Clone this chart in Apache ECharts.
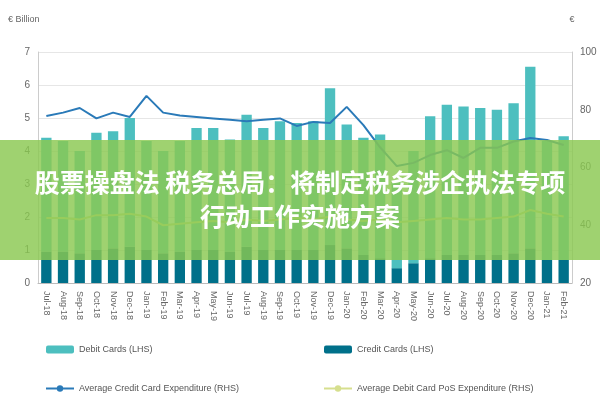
<!DOCTYPE html>
<html><head><meta charset="utf-8">
<script src="https://cdn.jsdelivr.net/npm/echarts@6/dist/echarts.min.js"></script>
<style>body{margin:0}#c{width:600px;height:400px}</style></head>
<body><div id="c"></div>
<script>
var months = ['Jul-18','Aug-18','Sep-18','Oct-18','Nov-18','Dec-18','Jan-19','Feb-19','Mar-19','Apr-19','May-19','Jun-19','Jul-19','Aug-19','Sep-19','Oct-19','Nov-19','Dec-19','Jan-20','Feb-20','Mar-20','Apr-20','May-20','Jun-20','Jul-20','Aug-20','Sep-20','Oct-20','Nov-20','Dec-20','Jan-21','Feb-21'];
var creditCards = [0.95,0.95,0.9,1.0,1.05,1.1,1.0,0.9,0.95,1.0,1.0,0.95,1.1,1.0,1.0,1.0,1.0,1.15,1.05,0.85,0.75,0.45,0.6,0.75,0.85,0.85,0.85,0.85,0.9,1.05,0.7,0.7];
var debitCards = [3.45,3.35,3.1,3.55,3.55,3.9,3.3,3.1,3.35,3.7,3.7,3.4,4.0,3.7,3.9,3.85,3.9,4.75,3.75,3.55,3.75,2.6,3.4,4.3,4.55,4.5,4.45,4.4,4.55,5.5,3.6,3.75];
var avgCreditExp = [77.8,79,80.6,77,79,77.5,84.8,79,78,77.5,77,76.5,76,76.5,77,74.4,75.8,75.4,81,74.7,67,60.5,61.6,64.3,66,63.3,66.8,66.8,69,70.2,69.5,67.8];
var avgDebitPos = [42.5,42.5,42,43.5,43.5,44,43,40,40.5,41,41.5,41,42,41.5,42,42.5,42,43,42,41.5,42,41,41.5,42,42.5,42,42,42.5,43,45.3,44,43];

var chart = echarts.init(document.getElementById('c'));
chart.setOption({
  animation:false,
  textStyle:{fontFamily:'Liberation Sans'},
  grid:{left:38,right:28,top:52,bottom:117},
  legend:[
    {left:40,top:340,orient:'vertical',itemGap:30,itemWidth:28,itemHeight:8,textStyle:{fontSize:9,color:'#555'},data:['Debit Cards (LHS)','Average Credit Card Expenditure (RHS)']},
    {left:318,top:340,orient:'vertical',itemGap:30,itemWidth:28,itemHeight:8,textStyle:{fontSize:9,color:'#555'},data:['Credit Cards (LHS)','Average Debit Card PoS Expenditure (RHS)']}
  ],
  xAxis:{type:'category',data:months,axisTick:{show:false},axisLine:{lineStyle:{color:'#bbb'}},axisLabel:{rotate:-90,fontSize:9,color:'#666',interval:0}},
  yAxis:[
    {type:'value',min:0,max:7,interval:1,name:'€ Billion',nameLocation:'end',nameGap:28,nameTextStyle:{align:'left',padding:[0,0,0,-30],fontSize:9,color:'#666'},axisLabel:{color:'#666',fontSize:10},splitLine:{lineStyle:{color:'#e6e6e6'}},axisLine:{show:true,lineStyle:{color:'#ccc'}}},
    {type:'value',min:20,max:100,interval:20,name:'€',nameGap:28,nameTextStyle:{fontSize:9,color:'#666'},axisLabel:{color:'#666',fontSize:10},splitLine:{show:false},axisLine:{show:true,lineStyle:{color:'#ccc'}}}
  ],
  series:[
    {name:'Credit Cards (LHS)',type:'bar',stack:'a',barWidth:'62%',itemStyle:{color:'#00708a'},data:creditCards},
    {name:'Debit Cards (LHS)',type:'bar',stack:'a',itemStyle:{color:'#4dbfbf'},data:debitCards},
    {name:'Average Credit Card Expenditure (RHS)',type:'line',yAxisIndex:1,symbol:'none',lineStyle:{color:'#2a7ab8',width:2},itemStyle:{color:'#2a7ab8'},data:avgCreditExp},
    {name:'Average Debit Card PoS Expenditure (RHS)',type:'line',yAxisIndex:1,symbol:'none',lineStyle:{color:'#d6df8e',width:2},itemStyle:{color:'#d6df8e'},data:avgDebitPos}
  ],
  graphic:[
    {type:'rect',left:0,top:140,shape:{width:600,height:120},style:{fill:'rgba(138,200,80,0.82)'},z:100},
    {type:'text',left:'center',top:170,style:{text:'股票操盘法 税务总局：将制定税务涉企执法专项',fill:'#fff',font:'bold 25px "Noto Sans CJK SC"'},z:101},
    {type:'text',left:'center',top:204,style:{text:'行动工作实施方案',fill:'#fff',font:'bold 25px "Noto Sans CJK SC"'},z:101}
  ]
});
</script></body></html>
